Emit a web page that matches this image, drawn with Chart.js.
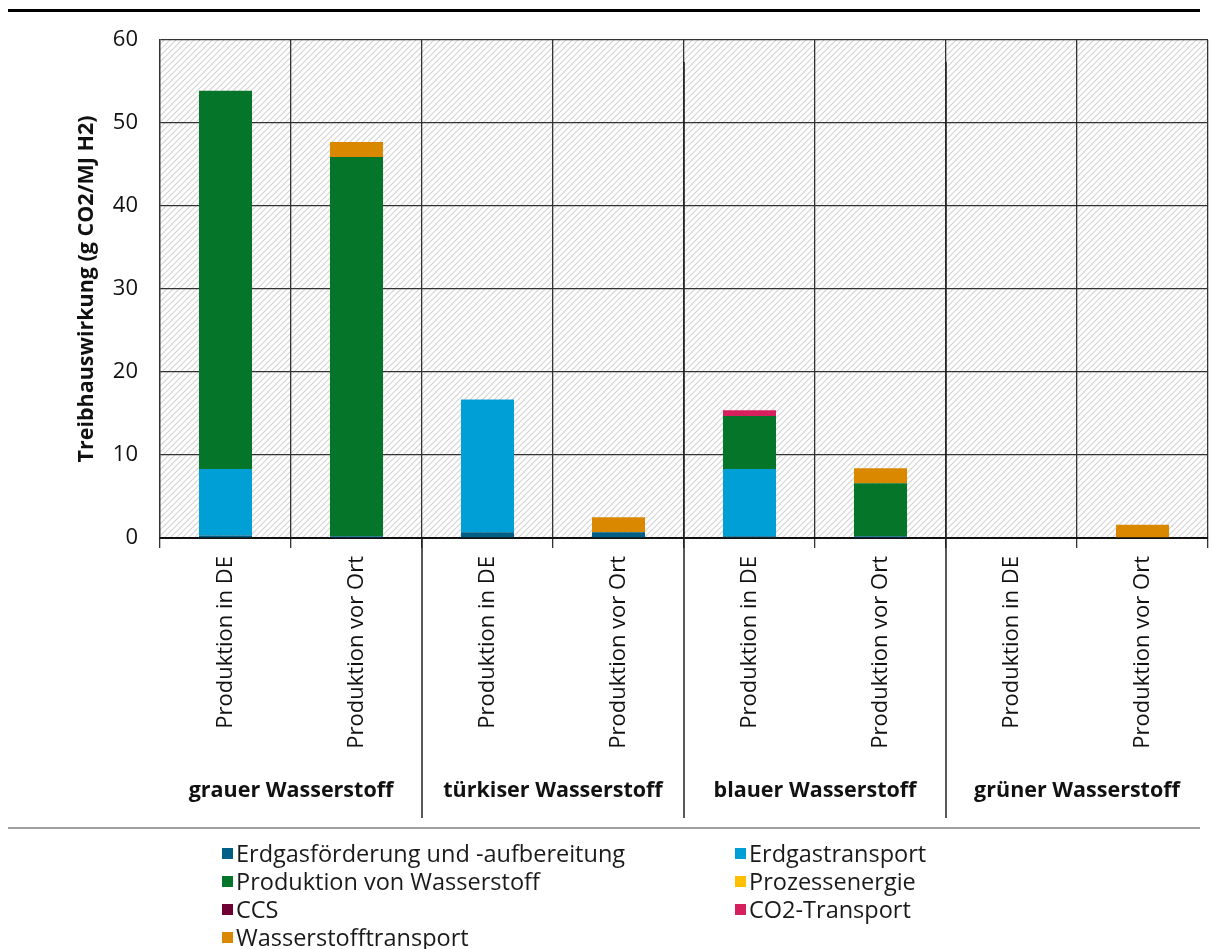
<!DOCTYPE html>
<html><head><meta charset="utf-8">
<script src="https://cdn.jsdelivr.net/npm/chart.js@4"></script>
<style>
body{margin:0;background:#fff;width:1212px;height:949px;overflow:hidden;position:relative;font-family:"Open Sans",sans-serif}
canvas{position:absolute;left:0;top:0}
#legend{position:absolute;left:222px;top:839px;display:grid;grid-template-columns:513px 320px;grid-auto-rows:28px;font-size:23.5px;color:#1a1a1a}
.item{display:flex;align-items:center;white-space:nowrap;line-height:28px}
.sw{width:11px;height:11px;margin-right:3px;flex:none}
</style></head>
<body>
<canvas id="c" width="1212" height="949"></canvas>
<div id="legend"></div>
<script>
const categories = ['Produktion in DE','Produktion vor Ort','Produktion in DE','Produktion vor Ort','Produktion in DE','Produktion vor Ort','Produktion in DE','Produktion vor Ort'];
const groups = ['grauer Wasserstoff','türkiser Wasserstoff','blauer Wasserstoff','grüner Wasserstoff'];
const yTicks = [0,10,20,30,40,50,60];
const seriesNames = ['Erdgasförderung und -aufbereitung','Erdgastransport','Produktion von Wasserstoff','Prozessenergie','CCS','CO2-Transport','Wasserstofftransport'];
const erdgasfoerderung   = [0.3, 0.2, 0.7, 0.7, 0.2, 0.2, 0, 0];
const erdgastransport    = [8.0, 0, 16.0, 0, 8.1, 0, 0, 0];
const produktionH2       = [45.6, 45.7, 0, 0, 6.4, 6.4, 0, 0];
const prozessenergie     = [0, 0, 0, 0, 0, 0, 0, 0];
const ccs                = [0, 0, 0, 0, 0, 0, 0, 0];
const co2Transport       = [0, 0, 0, 0, 0.7, 0, 0, 0];
const h2Transport        = [0, 1.8, 0, 1.8, 0, 1.8, 0, 1.6];
const seriesValues = [erdgasfoerderung, erdgastransport, produktionH2, prozessenergie, ccs, co2Transport, h2Transport];
const seriesColors = ['#005f87','#009fd6','#057529','#ffc000','#6e0033','#d4205c','#d98800'];

// hatch pattern
const pc = document.createElement('canvas'); pc.width = 6; pc.height = 6;
const px = pc.getContext('2d');
px.fillStyle = '#fff'; px.fillRect(0,0,6,6);
px.strokeStyle = '#d2d2d2'; px.lineWidth = 1.1;
px.beginPath(); px.moveTo(-1,7); px.lineTo(7,-1); px.moveTo(-1,1); px.lineTo(1,-1); px.moveTo(5,7); px.lineTo(7,5); px.stroke();

const hatch = {id:'hatch', beforeDraw(chart){
  const {ctx, chartArea:a} = chart;
  ctx.save(); ctx.fillStyle = ctx.createPattern(pc,'repeat');
  ctx.fillRect(a.left,a.top,a.right-a.left,a.bottom-a.top); ctx.restore();
}};
const extras = {id:'extras', afterDraw(chart){
  const {ctx, chartArea:a} = chart; const x = chart.scales.x;
  ctx.save();
  ctx.fillStyle = '#000'; ctx.fillRect(8,9,1192,3);
  ctx.strokeStyle = '#7f7f7f'; ctx.lineWidth = 1.5;
  ctx.beginPath(); ctx.moveTo(8,828); ctx.lineTo(1200,828); ctx.stroke();
  ctx.strokeStyle = '#222'; ctx.lineWidth = 1.5;
  for (let g=0; g<groups.length-1; g++){
    const bx = (x.getPixelForValue(2*g+1)+x.getPixelForValue(2*g+2))/2;
    ctx.beginPath(); ctx.moveTo(bx, g===0 ? a.bottom : a.top+22); ctx.lineTo(bx, 818); ctx.stroke();
  }
  ctx.fillStyle = '#111'; ctx.font = 'bold 21.5px "Open Sans"'; ctx.textAlign='center'; ctx.textBaseline='middle';
  groups.forEach((g,i)=>{
    const cx = (x.getPixelForValue(2*i)+x.getPixelForValue(2*i+1))/2;
    ctx.fillText(g, cx, 791);
  });
  ctx.restore();
}};

new Chart(document.getElementById('c'), {
  type:'bar',
  data:{labels:categories, datasets: seriesNames.map((n,i)=>({label:n, data:seriesValues[i], backgroundColor:seriesColors[i], borderWidth:0, barPercentage:0.405, categoryPercentage:1}))},
  options:{
    responsive:false, animation:false,
    layout:{padding:{left:74, top:40, right:4, bottom:0}},
    plugins:{legend:{display:false}, tooltip:{enabled:false}},
    scales:{
      x:{stacked:true, afterFit(s){s.height=411;},
        grid:{offset:true, color:'#333', lineWidth:1.3, tickLength:10},
        border:{color:'#111', width:2},
        ticks:{minRotation:90, maxRotation:90, autoSkip:false, color:'#111', font:{family:'Open Sans', size:22}, padding:8}},
      y:{stacked:true, min:0, max:60, afterFit(s){s.width=86;},
        afterBuildTicks(s){ s.ticks = yTicks.map(v=>({value:v})); },
        grid:{color:'#333', lineWidth:1.3, drawTicks:false},
        border:{color:'#333', width:1.3},
        ticks:{color:'#111', font:{family:'Open Sans', size:22}, padding:22},
        title:{display:true, text:'Treibhauswirkung (g CO2/MJ H2)', color:'#111', font:{family:'Open Sans', size:21.5, weight:'bold'}, padding:{top:0,bottom:0}}}
    }
  },
  plugins:[hatch, extras]
});

const lg = document.getElementById('legend');
seriesNames.forEach((n,i)=>{
  const d = document.createElement('div'); d.className='item';
  d.innerHTML = '<span class="sw" style="background:'+seriesColors[i]+'"></span><span></span>';
  d.lastChild.textContent = n; lg.appendChild(d);
});
</script>
</body></html>
